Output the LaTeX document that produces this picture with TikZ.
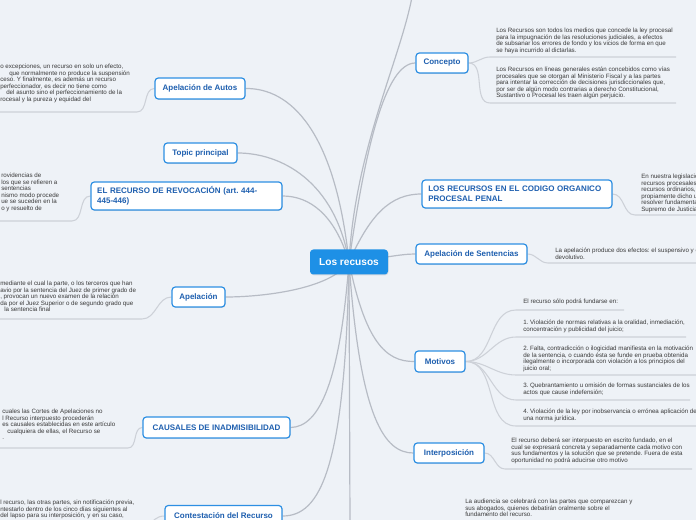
\documentclass[tikz,border=0pt]{standalone}
\usepackage{fontspec}
\setmainfont{Liberation Sans}
\usetikzlibrary{shadows}
\frenchspacing
\definecolor{bgc}{HTML}{EEF2F7}
\definecolor{edge}{HTML}{B7BCC5}
\definecolor{uline}{HTML}{CDD1D8}
\definecolor{nborder}{HTML}{2D8FE3}
\definecolor{ntext}{HTML}{1E5FAF}
\definecolor{cfill}{HTML}{1E90E6}
\definecolor{ltext}{HTML}{3A3A3A}
\pgfdeclarelayer{bglayer}
\pgfdeclarelayer{edgelayer}
\pgfsetlayers{bglayer,edgelayer,main}
\newcommand\leaffont{\fontsize{4.65pt}{4.9pt}\selectfont}
\newcommand\branchfont{\fontsize{6pt}{7.4pt}\selectfont\bfseries}
\tikzset{
  branch/.style={draw=nborder, line width=0.9pt, fill=white, rounded corners=2.5pt,
    text=ntext, font=\branchfont, inner sep=0pt,
    drop shadow={opacity=0.2, shadow xshift=0.4pt, shadow yshift=-0.6pt}},
  centernode/.style={fill=cfill, rounded corners=2.5pt, text=white,
    font=\fontsize{7.6pt}{8.6pt}\selectfont\bfseries, inner sep=0pt,
    minimum width=58.5pt, minimum height=18.75pt,
    drop shadow={opacity=0.2, shadow xshift=0.4pt, shadow yshift=-0.6pt}},
  leaf/.style={font=\leaffont, text=ltext, align=left, inner sep=0pt, anchor=north west},
  conn/.style={draw=edge, line width=0.9pt},
  ul/.style={draw=uline, line width=0.8pt},
}
\begin{document}
\begin{tikzpicture}[x=0.75pt,y=-0.75pt]
\useasboundingbox (0,0) rectangle (696,520);
\begin{pgfonlayer}{bglayer}
\fill[bgc] (0,0) rectangle (696,520);
\end{pgfonlayer}

% center
\node[centernode] (C) at (349,262) {Los recusos};

% branch nodes left
\node[branch, minimum width=67.5pt, minimum height=15.75pt] (AA) at (200,88.5) {Apelación de Autos};
\node[branch, minimum width=54.75pt, minimum height=15pt] (TP) at (200.5,153) {Topic principal};
\node[branch, minimum width=143.25pt, minimum height=21pt, align=left, text width=134pt] (RR) at (186.5,196) {EL RECURSO DE REVOCACIÓN (art. 444-\\445-446)};
\node[branch, minimum width=39.75pt, minimum height=15pt] (Ap) at (198.5,297) {Apelación};
\node[branch, minimum width=110.25pt, minimum height=15.75pt] (CA) at (216.5,427.5) {CAUSALES DE INADMISIBILIDAD};
\node[branch, minimum width=87.75pt, minimum height=15.75pt] (CO) at (223.5,516) {Contestación del Recurso};

% branch nodes right
\node[branch, minimum width=39pt, minimum height=15pt] (CP) at (442,63) {Concepto};
\node[branch, minimum width=142.5pt, minimum height=21pt, align=left, text width=133pt] (LR) at (517,194) {LOS RECURSOS EN EL CODIGO ORGANICO\\PROCESAL PENAL};
\node[branch, minimum width=83.25pt, minimum height=15pt] (AS) at (471.5,254) {Apelación de Sentencias};
\node[branch, minimum width=37.5pt, minimum height=15.75pt] (MO) at (440,361.5) {Motivos};
\node[branch, minimum width=52.5pt, minimum height=15pt] (IN) at (449,453) {Interposición};

% free ends
\coordinate (topend) at (412,-3);
\coordinate (botend) at (350,525);
\coordinate (coend) at (148,528);

% leaf underline end points
\coordinate (cp1) at (490,57);   \coordinate (cp1e) at (676,57);
\coordinate (cp2) at (490,103);  \coordinate (cp2e) at (676,103);
\coordinate (lr1) at (635,215);  \coordinate (lr1e) at (700,215);
\coordinate (as1) at (548,263);  \coordinate (as1e) at (700,263);
\coordinate (mo0) at (516,310);  \coordinate (mo0e) at (624,310);
\coordinate (mo1) at (516,337);  \coordinate (mo1e) at (686,337);
\coordinate (mo2) at (516,375);  \coordinate (mo2e) at (700,375);
\coordinate (mo3) at (516,400);  \coordinate (mo3e) at (690,400);
\coordinate (mo4) at (516,426);  \coordinate (mo4e) at (700,426);
\coordinate (in1) at (505,469);  \coordinate (in1e) at (692,469);
\coordinate (aa1) at (137,112);  \coordinate (aa1s) at (-2,112);
\coordinate (rr1) at (72,221);   \coordinate (rr1s) at (-2,221);
\coordinate (ap1) at (142,319);  \coordinate (ap1s) at (-2,319);
\coordinate (ca1) at (128,448);  \coordinate (ca1s) at (-2,448);

\begin{pgfonlayer}{edgelayer}
% main connectors
\draw[conn] (C.center) .. controls (355,150) and (400,60) .. (topend);
\draw[conn] (C.center) -- (botend);
\draw[conn] (C.center) .. controls (365,150) and (385,63) .. (CP.west);
\draw[conn] (C.center) .. controls (370,215) and (390,194) .. (LR.west);
\draw[conn] (C.center) .. controls (385,258) and (400,254) .. (AS.west);
\draw[conn] (C.center) .. controls (365,340) and (385,362) .. (MO.west);
\draw[conn] (C.center) .. controls (360,420) and (385,453) .. (IN.west);
\draw[conn] (C.center) .. controls (335,130) and (290,88) .. (AA.east);
\draw[conn] (C.center) .. controls (335,180) and (280,153) .. (TP.east);
\draw[conn] (C.center) .. controls (335,215) and (310,196) .. (RR.east);
\draw[conn] (C.center) .. controls (330,290) and (260,297) .. (Ap.east);
\draw[conn] (C.center) .. controls (340,380) and (320,427) .. (CA.east);
\draw[conn] (C.center) .. controls (345,470) and (320,516) .. (CO.east);
% leaf connectors right
\draw[ul] (CP.east) to[out=0,in=180] (cp1) -- (cp1e);
\draw[ul] (CP.east) to[out=0,in=180] (cp2) -- (cp2e);
\draw[ul] (LR.east) to[out=0,in=180] (lr1) -- (lr1e);
\draw[ul] (AS.east) to[out=0,in=180] (as1) -- (as1e);
\draw[ul] (MO.east) to[out=0,in=180] (mo0) -- (mo0e);
\draw[ul] (MO.east) to[out=0,in=180] (mo1) -- (mo1e);
\draw[ul] (MO.east) to[out=0,in=180] (mo2) -- (mo2e);
\draw[ul] (MO.east) to[out=0,in=180] (mo3) -- (mo3e);
\draw[ul] (MO.east) to[out=0,in=180] (mo4) -- (mo4e);
\draw[ul] (IN.east) to[out=0,in=180] (in1) -- (in1e);
% leaf connectors left
\draw[ul] (AA.west) to[out=180,in=0] (aa1) -- (aa1s);
\draw[ul] (RR.west) to[out=180,in=0] (rr1) -- (rr1s);
\draw[ul] (Ap.west) to[out=180,in=0] (ap1) -- (ap1s);
\draw[ul] (CA.west) to[out=180,in=0] (ca1) -- (ca1s);
\draw[ul] (CO.west) to[out=180,in=60] (coend);
\end{pgfonlayer}

% leaf texts right
\node[leaf] (t1) at (496,28) {Los Recursos son todos los medios que concede la ley procesal\\para la impugnación de las resoluciones judiciales, a efectos\\de subsanar los errores de fondo y los vicios de forma en que\\se haya incurrido al dictarlas.};
\node[leaf] (t2) at (496,67) {Los Recursos en líneas generales están concebidos como vías\\procesales que se otorgan al Ministerio Fiscal y a las partes\\para intentar la corrección de decisiones jurisdiccionales que,\\por ser de algún modo contrarias a derecho Constitucional,\\Sustantivo o Procesal les traen algún perjuicio.};
\node[leaf] (t3) at (641,174) {En nuestra legislación\\recursos procesales,\\recursos ordinarios,\\propiamente dicho u\\resolver fundamenta\\Supremo de Justicia};
\node[leaf] (t4) at (555,248) {La apelación produce dos efectos: el suspensivo y el\\devolutivo.};
\node[leaf] (t5) at (523,299) {El recurso sólo podrá fundarse en:};
\node[leaf] (t6) at (523,320) {1. Violación de normas relativas a la oralidad, inmediación,\\concentración y publicidad del juicio;};
\node[leaf] (t7) at (523,346) {2. Falta, contradicción o ilogicidad manifiesta en la motivación\\de la sentencia, o cuando ésta se funde en prueba obtenida\\ilegalmente o incorporada con violación a los principios del\\juicio oral;};
\node[leaf] (t8) at (523,383) {3. Quebrantamiento u omisión de formas sustanciales de los\\actos que cause indefensión;};
\node[leaf] (t9) at (523,409) {4. Violación de la ley por inobservancia o errónea aplicación de\\una norma jurídica.};
\node[leaf] (t10) at (511,438) {El recurso deberá ser interpuesto en escrito fundado, en el\\cual se expresará concreta y separadamente cada motivo con\\sus fundamentos y la solución que se pretende. Fuera de esta\\oportunidad no podrá aducirse otro motivo};
\node[leaf] (t11) at (465,499) {La audiencia se celebrará con las partes que comparezcan y\\sus abogados, quienes debatirán oralmente sobre el\\fundamento del recurso.};

% leaf texts left
\node[leaf] (t12) at (0,64) {o excepciones, un recurso en solo un efecto,\\\hspace*{6.75pt}que normalmente no produce la suspensión\\ceso. Y finalmente, es además un recurso\\perfeccionador, es decir no tiene como\\\hspace*{4.5pt}del asunto sino el perfeccionamiento de la\\rocesal y la pureza y equidad del};
\node[leaf] (t13) at (1,173) {rovidencias de\\los que se refieren a\\sentencias\\nismo modo procede\\ue se suceden en la\\o y resuelto de};
\node[leaf] (t14) at (0,281) {mediante el cual la parte, o los terceros que han\\avio por la sentencia del Juez de primer grado de\\, provocan un nuevo examen de la relación\\da por el Juez Superior o de segundo grado que\\\hspace*{3pt}la sentencia final};
\node[leaf] (t15) at (2,409) {cuales las Cortes de Apelaciones no\\l Recurso interpuesto procederán\\es causales establecidas en este artículo\\\hspace*{3.75pt}cualquiera de ellas, el Recurso se\\.};
\node[leaf] (t16) at (0,500) {l recurso, las otras partes, sin notificación previa,\\ntestarlo dentro de los cinco días siguientes al\\del lapso para su interposición, y en su caso,};
\end{tikzpicture}
\end{document}
